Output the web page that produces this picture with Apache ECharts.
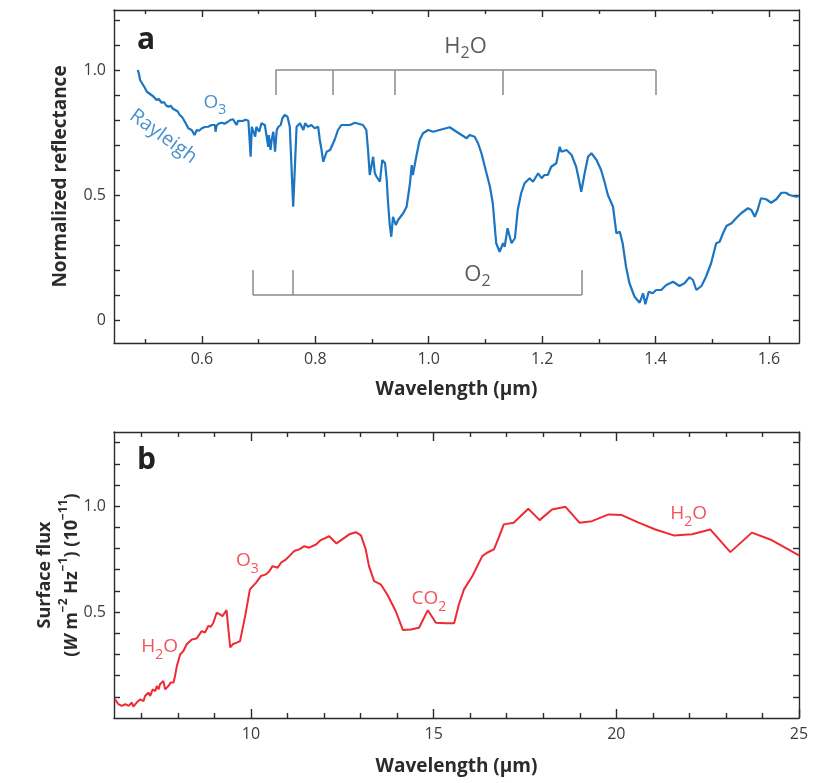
<!DOCTYPE html>
<html>
<head>
<meta charset="utf-8">
<script src="https://cdn.jsdelivr.net/npm/echarts@6/dist/echarts.min.js"></script>
<style>html,body{margin:0;background:#fff}#chart{width:814px;height:783px}</style>
</head>
<body>
<div id="chart"></div>
<script>
// panel a: reflectance spectrum [wavelength um, normalized reflectance]
const reflectanceSpectrum = [
  [0.487,1.000],[0.489,0.985],[0.491,0.960],[0.495,0.945],[0.499,0.930],[0.503,0.913],[0.506,0.921],[0.508,0.905],
  [0.511,0.907],[0.515,0.893],[0.520,0.880],[0.524,0.884],[0.529,0.869],[0.533,0.872],[0.537,0.858],[0.541,0.853],
  [0.545,0.857],[0.549,0.845],[0.553,0.840],[0.557,0.835],[0.561,0.820],[0.565,0.812],[0.570,0.793],[0.573,0.780],
  [0.576,0.767],[0.579,0.772],[0.582,0.760],[0.587,0.740],[0.591,0.760],[0.595,0.757],[0.600,0.767],[0.605,0.772],
  [0.611,0.773],[0.617,0.780],[0.623,0.780],[0.624,0.753],[0.626,0.778],[0.630,0.786],[0.635,0.789],[0.640,0.785],
  [0.646,0.793],[0.650,0.800],[0.655,0.803],[0.658,0.795],[0.661,0.780],[0.664,0.797],[0.667,0.800],[0.672,0.796],
  [0.677,0.801],[0.682,0.797],[0.685,0.793],[0.686,0.653],[0.688,0.773],[0.694,0.733],[0.696,0.773],[0.701,0.753],
  [0.705,0.787],[0.711,0.780],[0.714,0.773],[0.717,0.693],[0.718,0.740],[0.721,0.680],[0.723,0.720],[0.726,0.753],
  [0.729,0.673],[0.732,0.760],[0.735,0.773],[0.739,0.780],[0.742,0.807],[0.746,0.820],[0.751,0.813],[0.755,0.773],
  [0.758,0.613],[0.761,0.453],[0.764,0.613],[0.767,0.773],[0.773,0.787],[0.779,0.760],[0.782,0.787],[0.787,0.773],
  [0.793,0.780],[0.799,0.767],[0.805,0.773],[0.808,0.720],[0.811,0.680],[0.814,0.633],[0.817,0.653],[0.820,0.673],
  [0.823,0.667],[0.826,0.680],[0.829,0.673],[0.834,0.720],[0.840,0.760],[0.846,0.780],[0.861,0.780],[0.870,0.789],
  [0.884,0.780],[0.890,0.760],[0.893,0.680],[0.896,0.580],[0.902,0.653],[0.905,0.587],[0.908,0.573],[0.914,0.553],
  [0.918,0.640],[0.923,0.627],[0.926,0.560],[0.928,0.480],[0.931,0.387],[0.934,0.333],[0.937,0.413],[0.942,0.380],
  [0.946,0.400],[0.955,0.427],[0.961,0.453],[0.967,0.547],[0.970,0.620],[0.972,0.580],[0.978,0.653],[0.984,0.720],
  [0.990,0.747],[0.999,0.760],[1.008,0.753],[1.019,0.760],[1.037,0.771],[1.049,0.753],[1.067,0.727],[1.072,0.740],
  [1.081,0.733],[1.087,0.707],[1.093,0.667],[1.099,0.613],[1.108,0.533],[1.113,0.467],[1.116,0.387],[1.119,0.307],
  [1.125,0.273],[1.131,0.307],[1.134,0.293],[1.139,0.367],[1.143,0.333],[1.146,0.307],[1.152,0.327],[1.157,0.440],
  [1.163,0.507],[1.169,0.547],[1.178,0.567],[1.184,0.553],[1.193,0.587],[1.199,0.567],[1.204,0.580],[1.210,0.580],
  [1.216,0.613],[1.225,0.627],[1.231,0.693],[1.234,0.673],[1.243,0.680],[1.252,0.660],[1.260,0.613],[1.265,0.560],
  [1.269,0.513],[1.275,0.587],[1.281,0.653],[1.287,0.667],[1.296,0.640],[1.304,0.600],[1.310,0.553],[1.316,0.500],
  [1.325,0.453],[1.331,0.347],[1.337,0.353],[1.342,0.307],[1.348,0.213],[1.354,0.147],[1.363,0.093],[1.372,0.069],
  [1.378,0.107],[1.382,0.063],[1.388,0.113],[1.395,0.107],[1.401,0.120],[1.410,0.120],[1.419,0.140],[1.431,0.153],
  [1.442,0.136],[1.451,0.147],[1.460,0.171],[1.466,0.160],[1.472,0.120],[1.481,0.136],[1.489,0.173],[1.498,0.227],
  [1.507,0.307],[1.513,0.313],[1.519,0.347],[1.525,0.376],[1.534,0.387],[1.542,0.407],[1.551,0.427],[1.563,0.447],
  [1.569,0.440],[1.575,0.413],[1.580,0.440],[1.586,0.487],[1.595,0.483],[1.604,0.469],[1.613,0.483],[1.622,0.509],
  [1.630,0.509],[1.636,0.500],[1.648,0.493],[1.653,0.496]
];

// panel b: surface flux [wavelength um, flux 1e-11]
const fluxSpectrum = [
  [6.28,0.088],[6.37,0.065],[6.46,0.057],[6.56,0.065],[6.65,0.057],[6.74,0.073],[6.78,0.054],[6.87,0.073],
  [6.97,0.088],[7.06,0.080],[7.10,0.104],[7.15,0.096],[7.19,0.120],[7.24,0.104],[7.31,0.135],[7.38,0.127],
  [7.42,0.151],[7.47,0.135],[7.51,0.159],[7.56,0.151],[7.60,0.175],[7.65,0.135],[7.69,0.127],[7.74,0.151],
  [7.80,0.167],[7.88,0.167],[7.92,0.198],[7.97,0.245],[8.06,0.300],[8.15,0.316],[8.24,0.348],[8.38,0.371],
  [8.51,0.375],[8.59,0.395],[8.65,0.410],[8.74,0.403],[8.83,0.434],[8.90,0.431],[8.97,0.450],[9.06,0.497],
  [9.15,0.489],[9.22,0.481],[9.33,0.509],[9.43,0.333],[9.50,0.348],[9.61,0.356],[9.70,0.363],[9.84,0.481],
  [9.97,0.607],[10.14,0.639],[10.27,0.670],[10.41,0.678],[10.50,0.693],[10.59,0.717],[10.73,0.709],[10.82,0.733],
  [10.96,0.749],[11.05,0.764],[11.18,0.788],[11.32,0.796],[11.46,0.811],[11.59,0.804],[11.78,0.819],[11.91,0.840],
  [12.14,0.858],[12.34,0.824],[12.69,0.867],[12.87,0.877],[13.01,0.862],[13.14,0.796],[13.23,0.717],[13.37,0.646],
  [13.55,0.631],[13.73,0.583],[13.96,0.505],[14.16,0.415],[14.37,0.418],[14.60,0.426],[14.84,0.509],[15.06,0.450],
  [15.33,0.447],[15.56,0.447],[15.69,0.536],[15.83,0.607],[16.06,0.670],[16.33,0.764],[16.46,0.780],[16.65,0.796],
  [16.78,0.851],[16.92,0.914],[17.19,0.922],[17.59,0.988],[17.90,0.934],[18.24,0.984],[18.61,0.997],[18.99,0.922],
  [19.33,0.929],[19.79,0.961],[20.15,0.958],[20.61,0.922],[21.07,0.890],[21.57,0.862],[22.07,0.867],[22.57,0.890],
  [23.12,0.783],[23.71,0.875],[24.25,0.840],[25.00,0.768]
];

// absorption band brackets (panel a)
const h2oBandEdges = [0.73, 0.83, 0.94, 1.13, 1.40];
const h2oBracketY = [1.0, 0.9];
const o2BandEdges = [0.69, 0.76, 1.27];
const o2BracketY = [0.1, 0.2];

// text notes, [x, y] in data units
const topGrayNotes = [
  { text: 'H{sub|2}O', at: [1.065, 1.095] },
  { text: 'O{sub|2}', at: [1.086, 0.183] }
];
const topBlueNotes = [{ text: 'O{sub|3}', at: [0.623, 0.87] }];
const rayleighNote = { text: 'Rayleigh', at: [0.532, 0.734] };
const bottomRedNotes = [
  { text: 'H{sub|2}O', at: [7.5, 0.336] },
  { text: 'O{sub|3}', at: [9.9, 0.742] },
  { text: 'CO{sub|2}', at: [14.87, 0.563] },
  { text: 'H{sub|2}O', at: [21.98, 0.964] }
];

// ticks and labels
const topXLabels = [0.6, 0.8, 1.0, 1.2, 1.4, 1.6];
const topXMinor = [0.5, 0.7, 0.9, 1.1, 1.3, 1.5];
const topYLabels = [0, 0.5, 1.0];
const topYTicks = [0, 0.1, 0.2, 0.3, 0.4, 0.5, 0.6, 0.7, 0.8, 0.9, 1.0, 1.1, 1.2];
const fluxXLabels = [10, 15, 20, 25];
const fluxXMinor = [7, 8, 9, 11, 12, 13, 14, 16, 17, 18, 19, 21, 22, 23, 24];
const fluxYLabels = [0.5, 1.0];
const fluxYTicks = [0.1, 0.2, 0.3, 0.4, 0.5, 0.6, 0.7, 0.8, 0.9, 1.0, 1.1, 1.2, 1.3];

const FONT = '"Open Sans", "Noto Sans", sans-serif';
const INK = '#2b2b2b';
const BLUE = '#1b75c2';
const RED = '#ee2a33';
const GRAY = '#8a8a8a';

const chart = echarts.init(document.getElementById('chart'));

function frameAxis(gridIndex, position, min, max, ticks, tickLen, labels, fmt, showLine) {
  return {
    type: 'value', gridIndex, position, min, max,
    axisLine: { show: showLine !== false, onZero: false, lineStyle: { color: INK, width: 1.4 } },
    axisTick: { show: true, inside: true, length: tickLen, customValues: ticks, lineStyle: { color: INK, width: 1.4 } },
    axisLabel: labels
      ? { show: true, customValues: labels, formatter: fmt, margin: 8, color: '#3a3d42', fontSize: 16, fontFamily: FONT }
      : { show: false },
    splitLine: { show: false }
  };
}

const nameStyle = { color: '#2b2b2b', fontSize: 19, fontWeight: 'bold', fontFamily: FONT };
const topXRange = [0.445, 1.653], topYRange = [-0.092, 1.24];
const botXRange = [6.25, 25], botYRange = [0, 1.35];

const fmtTopX = v => v.toFixed(1);
const fmtTopY = v => (v === 0 ? '0' : v.toFixed(1));
const fmtInt = v => String(v);

const xA0 = frameAxis(0, 'bottom', ...topXRange, topXLabels, 7, topXLabels, fmtTopX);
Object.assign(xA0, { name: 'Wavelength (μm)', nameLocation: 'middle', nameGap: 37, nameTextStyle: nameStyle });
const xB0 = frameAxis(1, 'bottom', ...botXRange, fluxXLabels, 9, fluxXLabels, fmtInt);
Object.assign(xB0, { name: 'Wavelength (μm)', nameLocation: 'middle', nameGap: 39, nameTextStyle: nameStyle });

const yA0 = frameAxis(0, 'left', ...topYRange, topYTicks, 6, topYLabels, fmtTopY);
Object.assign(yA0, { name: 'Normalized reflectance', nameLocation: 'middle', nameGap: 44, nameTextStyle: nameStyle });

const yB0 = frameAxis(1, 'left', ...botYRange, fluxYTicks, 6, fluxYLabels, v => v.toFixed(1));
Object.assign(yB0, {
  name: '{t|Surface flux}\n{t|(}{i|W}{t| m}{u|−2}{t| Hz}{u|−1}{t|) (10}{u|−11}{t|)}',
  nameLocation: 'middle', nameGap: 29, nameMoveOverlap: false,
  nameTextStyle: {
    rich: {
      t: { fontSize: 18, fontWeight: 'bold', fontFamily: FONT, color: '#2b2b2b', lineHeight: 27 },
      i: { fontSize: 18, fontWeight: 'bold', fontStyle: 'italic', fontFamily: FONT, color: '#2b2b2b', lineHeight: 27 },
      u: { fontSize: 12, fontWeight: 'bold', fontFamily: FONT, color: '#2b2b2b', lineHeight: 12, verticalAlign: 'top' }
    }
  }
});

const subRich = (color, size) => ({
  sub: { fontSize: Math.round(size * 0.72), color, fontFamily: FONT, lineHeight: 6, verticalAlign: 'bottom' }
});

function noteSeries(notes, xi, yi, color, size, rotate) {
  return {
    type: 'scatter', xAxisIndex: xi, yAxisIndex: yi, symbolSize: 0, silent: true, z: 5,
    data: notes.map(n => ({ value: n.at, label: { formatter: n.text } })),
    label: {
      show: true, position: 'inside', color, fontSize: size, fontFamily: FONT, rotate: rotate || 0,
      lineHeight: 30, rich: subRich(color, size)
    }
  };
}

function bracketLines(edges, levels) {
  const segs = [{ coords: [[edges[0], levels[0]], [edges[edges.length - 1], levels[0]]] }];
  edges.forEach(e => segs.push({ coords: [[e, levels[0]], [e, levels[1]]] }));
  return segs;
}

chart.setOption({
  animation: false,
  backgroundColor: '#fff',
  grid: [
    { left: 114, top: 10, width: 685, height: 333 },
    { left: 114, top: 432, width: 685, height: 286 }
  ],
  xAxis: [
    xA0,
    frameAxis(0, 'bottom', ...topXRange, topXMinor, 4, null, null, false),
    frameAxis(0, 'top', ...topXRange, topXLabels, 7, null),
    frameAxis(0, 'top', ...topXRange, topXMinor, 4, null, null, false),
    xB0,
    frameAxis(1, 'bottom', ...botXRange, fluxXMinor, 5, null, null, false),
    frameAxis(1, 'top', ...botXRange, fluxXLabels, 9, null),
    frameAxis(1, 'top', ...botXRange, fluxXMinor, 5, null, null, false)
  ],
  yAxis: [
    yA0,
    frameAxis(0, 'right', ...topYRange, topYTicks, 6, null),
    yB0,
    frameAxis(1, 'right', ...botYRange, fluxYTicks, 6, null)
  ],
  graphic: [
    { type: 'text', left: 137, top: 25, style: { text: 'a', font: 'bold 30px ' + FONT, fill: '#222' } },
    { type: 'text', left: 137, top: 445, style: { text: 'b', font: 'bold 30px ' + FONT, fill: '#222' } }
  ],
  series: [
    {
      type: 'lines', coordinateSystem: 'cartesian2d', xAxisIndex: 0, yAxisIndex: 0, silent: true,
      lineStyle: { color: GRAY, width: 1.5, opacity: 1 },
      data: bracketLines(h2oBandEdges, h2oBracketY).concat(bracketLines(o2BandEdges, o2BracketY))
    },
    {
      type: 'line', xAxisIndex: 0, yAxisIndex: 0, data: reflectanceSpectrum, showSymbol: false,
      lineStyle: { color: BLUE, width: 2.2 }, z: 3
    },
    {
      type: 'line', xAxisIndex: 4, yAxisIndex: 2, data: fluxSpectrum, showSymbol: false,
      lineStyle: { color: RED, width: 2 }, z: 3
    },
    noteSeries(topGrayNotes, 0, 0, '#333', 22),
    noteSeries(topBlueNotes, 0, 0, BLUE, 19),
    noteSeries([rayleighNote], 0, 0, BLUE, 20, -36),
    noteSeries(bottomRedNotes, 4, 2, RED, 19)
  ]
});
</script>
</body>
</html>
